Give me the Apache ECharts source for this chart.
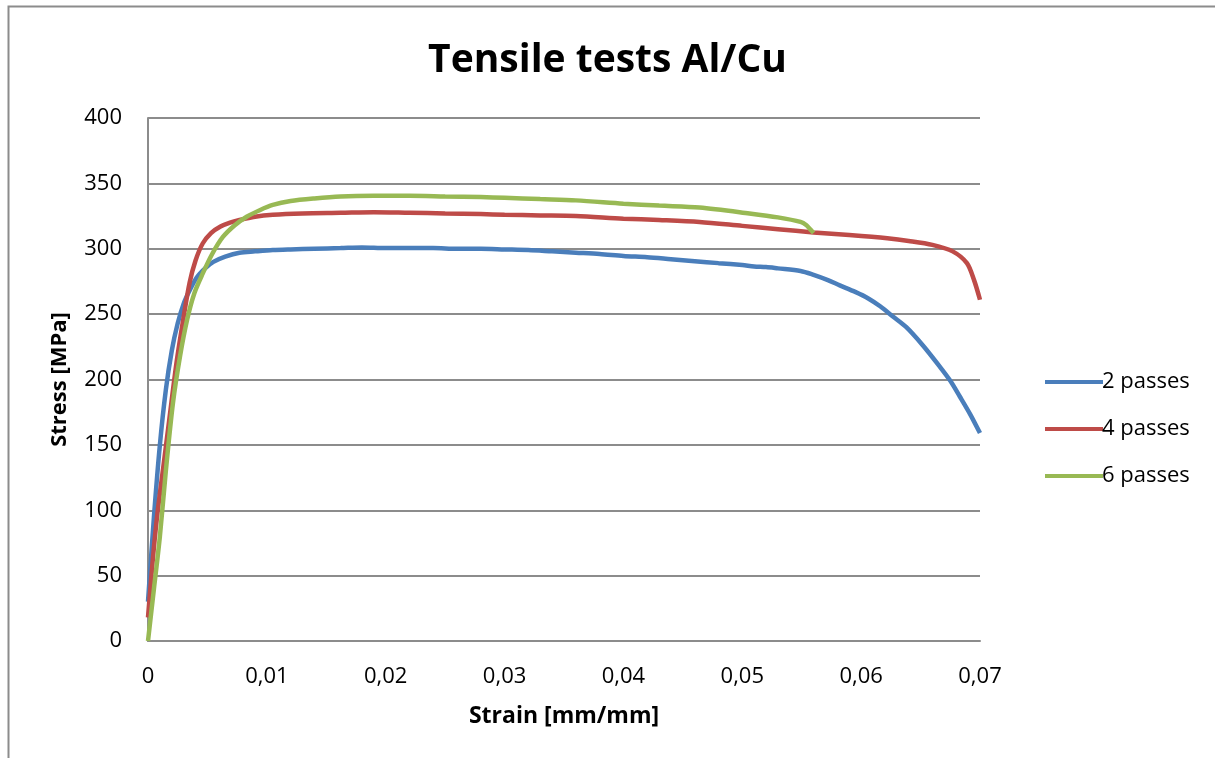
<!DOCTYPE html>
<html>
<head>
<meta charset="utf-8">
<style>
  html, body { margin: 0; padding: 0; background: #fff; }
  #chart { width: 1215px; height: 758px; }
</style>
<script src="https://cdn.jsdelivr.net/npm/echarts@6/dist/echarts.min.js"></script>
</head>
<body>
<div id="chart"></div>
<script>
// Strain [mm/mm] and stress [MPa] pairs for each specimen
const strain2 = [0, 0.0005, 0.001, 0.0015, 0.002, 0.0025, 0.003, 0.0035, 0.0041, 0.0048, 0.0055, 0.0065, 0.0077, 0.009, 0.0105, 0.012, 0.014, 0.0162, 0.018, 0.02, 0.022, 0.024, 0.026, 0.028, 0.03, 0.032, 0.034, 0.036, 0.038, 0.04, 0.042, 0.044, 0.046, 0.048, 0.05, 0.051, 0.052, 0.053, 0.0549, 0.056, 0.0572, 0.0582, 0.0595, 0.0606, 0.0616, 0.0627, 0.0638, 0.0652, 0.0666, 0.0675, 0.0683, 0.0692, 0.07];
const stress2 = [30, 95, 150, 192, 222, 243, 258, 268, 278, 285, 290, 294, 297, 298, 299, 299.5, 300, 300.5, 301, 300.5, 300.5, 300.5, 300, 300, 299.5, 299, 298, 297, 296, 294.5, 293.5, 292, 290.5, 289, 287.5, 286.5, 286, 285, 283, 280, 276, 272, 267, 262, 256, 248, 240, 226, 210, 199, 187, 173, 159];

const strain4 = [0, 0.0004, 0.0008, 0.0013, 0.0018, 0.0024, 0.003, 0.0035, 0.004, 0.0046, 0.0053, 0.0061, 0.0069, 0.0077, 0.009, 0.0105, 0.013, 0.0162, 0.019, 0.022, 0.025, 0.028, 0.03, 0.033, 0.036, 0.04, 0.043, 0.0464, 0.05, 0.053, 0.056, 0.059, 0.0622, 0.064, 0.066, 0.0677, 0.0689, 0.0695, 0.07];
const stress4 = [18, 62, 98, 134, 170, 213, 248, 274, 291, 304, 312, 317, 320, 322, 324.5, 326, 327, 327.5, 328, 327.5, 327, 326.5, 326, 325.5, 325, 323, 322, 320.5, 317.5, 315, 312.5, 310.5, 308, 306, 303, 298, 289, 276, 261];

const strain6 = [0, 0.0005, 0.001, 0.0015, 0.0021, 0.0027, 0.0033, 0.0039, 0.0046, 0.0054, 0.0063, 0.0073, 0.0083, 0.0094, 0.0105, 0.012, 0.014, 0.0162, 0.019, 0.022, 0.025, 0.028, 0.03, 0.033, 0.036, 0.04, 0.043, 0.0464, 0.0506, 0.053, 0.0549, 0.0554, 0.0557, 0.056];
const stress6 = [0, 40, 80, 130, 182, 218, 246, 266, 281, 296, 309, 318, 324.5, 329.5, 333.5, 336.5, 338.5, 340, 340.5, 340.5, 340, 339.5, 339, 338, 337, 334.5, 333, 331.5, 327, 324, 320.5, 318, 315, 312];

const seriesNames = ['2 passes', '4 passes', '6 passes'];
const seriesColors = ['#4a7ebb', '#be4b48', '#98b954'];
const xTicks = [0, 0.01, 0.02, 0.03, 0.04, 0.05, 0.06, 0.07];

function pairs(xs, ys) {
  return xs.map((x, i) => [x, ys[i]]);
}

const chart = echarts.init(document.getElementById('chart'));
const font = '"Open Sans", "Liberation Sans", sans-serif';

chart.setOption({
  backgroundColor: '#fff',
  animation: false,
  graphic: [{
    type: 'rect',
    shape: { x: 8.5, y: 6.5, width: 1300, height: 800 },
    style: { fill: 'none', stroke: '#8c8c8c', lineWidth: 2 },
    silent: true
  }],
  title: {
    text: 'Tensile tests Al/Cu',
    left: 'center',
    top: 36,
    textStyle: { fontFamily: font, fontSize: 39, fontWeight: 'bold', color: '#000' }
  },
  legend: {
    orient: 'vertical',
    left: 1040,
    top: 366,
    itemGap: 25,
    itemWidth: 58,
    itemHeight: 26,
    icon: 'path://M0,11 L58,11 L58,15 L0,15 Z',
    textStyle: { fontFamily: font, fontSize: 22, color: '#000', padding: [0, 0, 0, -6] },
    data: seriesNames
  },
  grid: { left: 148, right: 235, top: 118, bottom: 117 },
  xAxis: {
    type: 'value',
    min: 0,
    max: 0.07,
    interval: 0.01,
    name: 'Strain [mm/mm]',
    nameLocation: 'middle',
    nameGap: 64,
    nameTextStyle: { fontFamily: font, fontSize: 23, fontWeight: 'bold', color: '#000' },
    axisLine: { show: true, lineStyle: { color: '#8c8c8c', width: 2 } },
    axisTick: { show: false },
    splitLine: { show: false },
    axisLabel: {
      margin: 25,
      fontFamily: font,
      fontSize: 22,
      color: '#000',
      formatter: v => xTicks.includes(+v.toFixed(2)) ? (v === 0 ? '0' : v.toFixed(2).replace('.', ',')) : ''
    }
  },
  yAxis: {
    type: 'value',
    min: 0,
    max: 400,
    interval: 50,
    name: 'Stress [MPa]',
    nameLocation: 'middle',
    nameGap: 77,
    nameTextStyle: { fontFamily: font, fontSize: 22, fontWeight: 'bold', color: '#000' },
    axisLine: { show: true, lineStyle: { color: '#8c8c8c', width: 2 } },
    axisTick: { show: false },
    splitLine: { show: true, lineStyle: { color: '#8c8c8c', width: 2 } },
    axisLabel: { margin: 26, fontFamily: font, fontSize: 22, color: '#000' }
  },
  series: [
    { name: seriesNames[0], data: pairs(strain2, stress2) },
    { name: seriesNames[1], data: pairs(strain4, stress4) },
    { name: seriesNames[2], data: pairs(strain6, stress6) }
  ].map((s, i) => ({
    ...s,
    type: 'line',
    showSymbol: false,
    smooth: 0.3,
    clip: true,
    color: seriesColors[i],
    lineStyle: { width: 4.5, color: seriesColors[i] }
  }))
});
</script>
</body>
</html>
